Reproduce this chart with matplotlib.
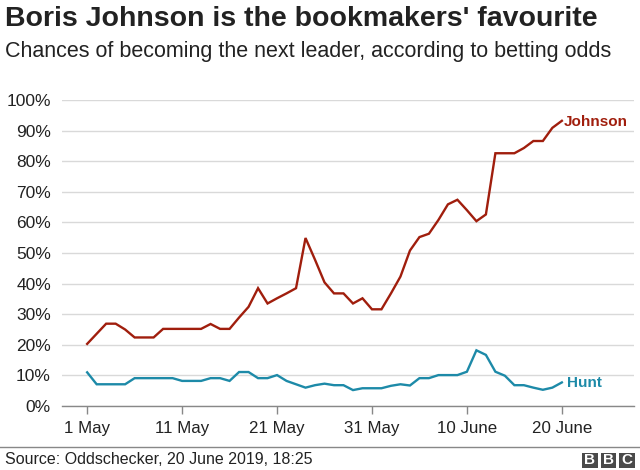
import matplotlib
matplotlib.use("Agg")
import matplotlib.pyplot as plt
from matplotlib.patches import Rectangle
import pandas as pd

plt.rcParams['font.family'] = ['Liberation Sans', 'DejaVu Sans']

# daily odds-implied chances, 1 May - 20 June 2019
dates = pd.date_range('2019-05-01', '2019-06-20', freq='D')
johnson = [20.3, 23.6, 26.9, 26.9, 25.0, 22.4, 22.4, 22.4, 25.2, 25.2,
           25.2, 25.2, 25.2, 26.8, 25.2, 25.2, 28.9, 32.4, 38.5, 33.5,
           35.2, 36.8, 38.5, 54.9, 47.8, 40.4, 36.8, 36.8, 33.5, 35.2,
           31.6, 31.6, 36.8, 42.3, 50.8, 55.2, 56.3, 60.8, 65.9, 67.4,
           64.0, 60.4, 62.6, 82.6, 82.6, 82.6, 84.3, 86.6, 86.6, 90.9,
           93.2]
hunt = [11.0, 7.1, 7.1, 7.1, 7.1, 9.1, 9.1, 9.1, 9.1, 9.1,
        8.2, 8.2, 8.2, 9.1, 9.1, 8.2, 11.1, 11.1, 9.1, 9.1,
        10.1, 8.2, 7.1, 6.0, 6.8, 7.3, 6.8, 6.8, 5.2, 5.8,
        5.8, 5.8, 6.6, 7.1, 6.7, 9.1, 9.1, 10.1, 10.1, 10.1,
        11.2, 18.2, 16.7, 11.2, 9.9, 6.8, 6.8, 6.0, 5.3, 6.0,
        7.7]
yticks = [0, 10, 20, 30, 40, 50, 60, 70, 80, 90, 100]
xtick_dates = pd.to_datetime(['2019-05-01', '2019-05-11', '2019-05-21',
                              '2019-05-31', '2019-06-10', '2019-06-20'])
xtick_labels = ['1 May', '11 May', '21 May', '31 May', '10 June', '20 June']

red = '#a01e0d'
blue = '#1d8aa8'
dark = '#222222'

fig = plt.figure(figsize=(6.4, 4.7), dpi=100)
ax = fig.add_axes([62 / 640, 1 - 406 / 470, 572 / 640, 306 / 470])

ax.plot(dates, johnson, color=red, lw=1.7, clip_on=False, solid_joinstyle='miter')
ax.plot(dates, hunt, color=blue, lw=1.7, clip_on=False, solid_joinstyle='miter')

ax.annotate('Johnson', (dates[-1], johnson[-1]), xytext=(2, -5), textcoords='offset pixels',
            color=red, fontsize=11, fontweight='bold', ha='left', va='baseline')
ax.annotate('Hunt', (dates[-1], hunt[-1]), xytext=(5, -4.5), textcoords='offset pixels',
            color=blue, fontsize=11, fontweight='bold', ha='left', va='baseline')

ax.set_ylim(0, 100)
ax.set_xlim(dates[0] - pd.Timedelta(days=2.65), dates[0] + pd.Timedelta(days=57.6))
ax.set_yticks(yticks)
ax.set_yticklabels([f'{v}%' for v in yticks])
ax.set_xticks(xtick_dates)
ax.set_xticklabels(xtick_labels)

ax.grid(axis='y', color='#d9d9d9', lw=1)
ax.set_axisbelow(True)
for s in ['top', 'right', 'left']:
    ax.spines[s].set_visible(False)
ax.spines['bottom'].set_color('#888888')
ax.spines['bottom'].set_linewidth(1)
ax.tick_params(axis='y', length=0, pad=8, labelsize=12.5, labelcolor=dark)
ax.tick_params(axis='x', length=6, width=1, color='#888888', pad=5,
               labelsize=12.2, labelcolor=dark)

fig.text(5 / 640, 1 - 25.7 / 470, "Boris Johnson is the bookmakers' favourite",
         fontsize=20.5, fontweight='bold', color=dark, va='baseline', ha='left')
fig.text(5 / 640, 1 - 57.3 / 470, "Chances of becoming the next leader, according to betting odds",
         fontsize=15.5, color=dark, va='baseline', ha='left')

# footer
fig.add_artist(plt.Line2D([0, 1], [1 - 447 / 470] * 2, color='#888888', lw=1))
fig.text(5 / 640, 1 - 460 / 470, 'Source: Oddschecker, 20 June 2019, 18:25',
         fontsize=11.5, color=dark, va='center', ha='left')
for i, letter in enumerate('BBC'):
    x0 = (582 + i * 18.5) / 640
    fig.add_artist(Rectangle((x0, 1 - 467.5 / 470), 15.5 / 640, 15 / 470,
                             transform=fig.transFigure, color='#4a4a4a', lw=0))
    fig.text(x0 + 7.75 / 640, 1 - 460 / 470, letter, color='white', fontsize=11,
             fontweight='bold', ha='center', va='center')

fig.savefig('out.png', dpi=100)
